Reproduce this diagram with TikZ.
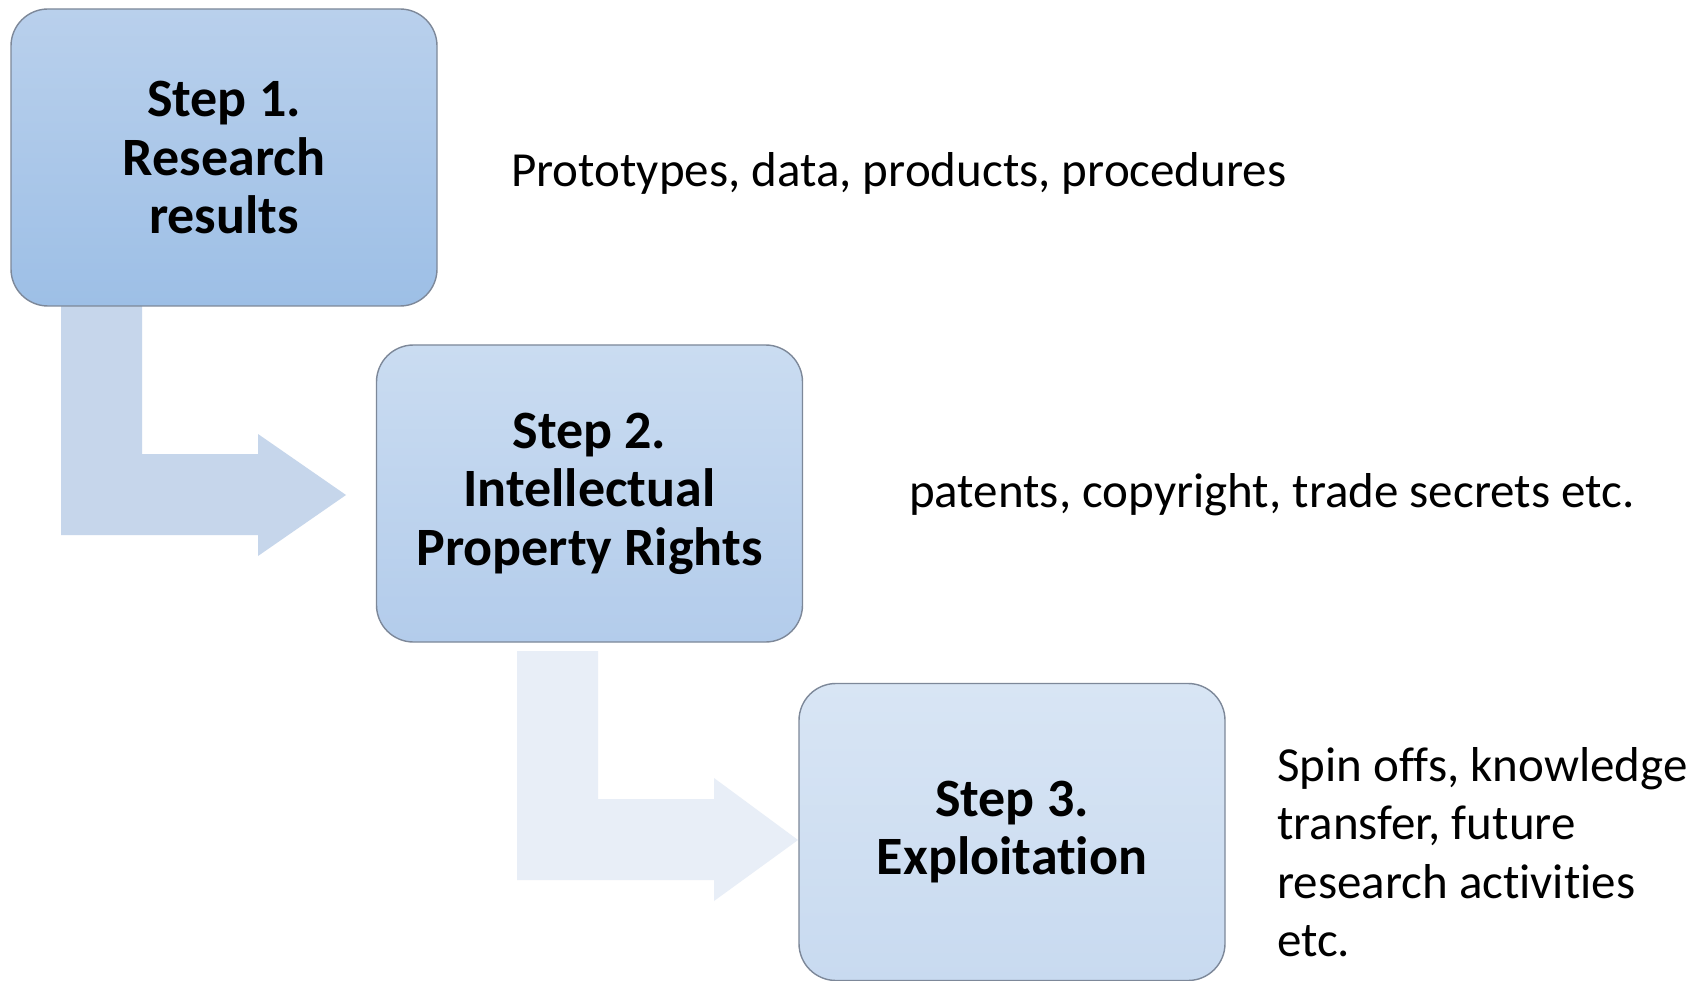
\documentclass[tikz,border=0pt]{standalone}
\usepackage{fontspec}
\setmainfont[Ligatures=NoCommon]{Carlito}
\definecolor{boxline}{HTML}{7D8899}
\definecolor{arrowA}{HTML}{C6D6EB}
\definecolor{arrowB}{HTML}{E8EEF7}
\definecolor{oneTop}{HTML}{B9D0EC}
\definecolor{oneBot}{HTML}{9DBFE6}
\definecolor{twoTop}{HTML}{CADCF1}
\definecolor{twoBot}{HTML}{B3CCEB}
\definecolor{threeTop}{HTML}{D8E5F4}
\definecolor{threeBot}{HTML}{C8DAF0}
\begin{document}
\begin{tikzpicture}[x=1pt,y=-1pt,
  stepbox/.style={draw=boxline, line width=1.4pt, rounded corners=37pt,
    minimum width=426pt, minimum height=297pt, align=center,
    font=\fontsize{54}{58.5}\selectfont\bfseries, inner sep=0pt},
  sidenote/.style={anchor=west, align=left, inner sep=0pt,
    font=\fontsize{49}{58.5}\selectfont}]
\useasboundingbox (0,0) rectangle (1700,981);
\fill[white] (0,0) rectangle (1700,981);

% bent block arrows between the steps
\fill[arrowA] (61,290) -- (142,290) -- (142,454) -- (258,454) -- (258,434)
  -- (346,495) -- (258,556) -- (258,535) -- (61,535) -- cycle;
\fill[arrowB] (517,651) -- (598,651) -- (598,799) -- (714,799) -- (714,778)
  -- (798,840) -- (714,901) -- (714,880) -- (517,880) -- cycle;

% step boxes
\node[stepbox, top color=oneTop, bottom color=oneBot]
  (s1) at (224,157.5) {Step 1.\\Research\\results};
\node[stepbox, top color=twoTop, bottom color=twoBot]
  (s2) at (589.5,493.5) {Step 2.\\Intellectual\\Property Rights};
\node[stepbox, top color=threeTop, bottom color=threeBot]
  (s3) at (1012,832) {Step 3.\\Exploitation};

% descriptions
\node[sidenote] (n1) at (511,173) {Prototypes, data, products, procedures};
\node[sidenote] (n2) at (909,495) {patents, copyright, trade secrets etc.};
\node[sidenote] (n3) at (1277,852) {Spin offs, knowledge\\transfer, future\\research activities\\etc.};
\end{tikzpicture}
\end{document}
